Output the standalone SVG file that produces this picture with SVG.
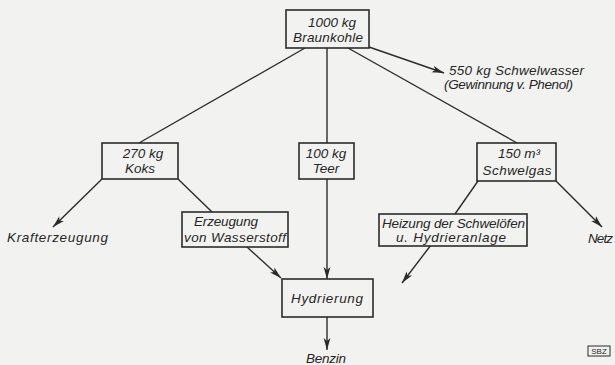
<svg xmlns="http://www.w3.org/2000/svg" width="615" height="365" viewBox="0 0 615 365">
<style>
.bg{fill:#f2f2f0}
.box{fill:#f2f2f0;stroke:#2b2b2b;stroke-width:1.6}
.ln{stroke:#2b2b2b;stroke-width:1.4;fill:none}
.ar{marker-end:url(#arr)}
text{font-family:"Liberation Sans",Arial,sans-serif;font-style:italic;font-size:13.5px;fill:#262626}
.c{text-anchor:middle}
.s{font-size:8px;font-style:normal}
</style>
<defs>
<marker id="arr" viewBox="0 0 12 8" refX="12" refY="4" markerWidth="12" markerHeight="8" markerUnits="userSpaceOnUse" orient="auto">
<path d="M0,0.6 L12,4 L0,7.4 L3,4 Z" fill="#2b2b2b"/>
</marker>
</defs>
<rect class="bg" x="0" y="0" width="615" height="365"/>
<g id="connectors">
<line class="ln" x1="305" y1="48" x2="139" y2="143"/>
<line class="ln" x1="327" y1="48" x2="327" y2="143"/>
<line class="ln" x1="348" y1="48" x2="517" y2="143"/>
<line class="ln ar" x1="369" y1="47" x2="444" y2="73"/>
<line class="ln ar" x1="102" y1="179" x2="53" y2="227"/>
<line class="ln" x1="178" y1="179" x2="212" y2="212"/>
<line class="ln ar" x1="247" y1="247" x2="281" y2="278"/>
<line class="ln ar" x1="327" y1="179" x2="327" y2="279"/>
<line class="ln" x1="478" y1="181" x2="455" y2="214"/>
<line class="ln ar" x1="431" y1="245" x2="402" y2="283"/>
<line class="ln ar" x1="556" y1="181" x2="602" y2="227"/>
<line class="ln ar" x1="327" y1="317" x2="327" y2="350"/>
</g>
<g id="braunkohle">
<rect class="box" x="286" y="10" width="83" height="38"/>
<text class="c" x="332" y="27">1000 kg</text>
<text class="c" x="328" y="42" textLength="70">Braunkohle</text>
</g>
<g id="schwelwasser">
<text x="449" y="75" textLength="135">550 kg  Schwelwasser</text>
<text x="444" y="89" textLength="129">(Gewinnung v. Phenol)</text>
</g>
<g id="koks">
<rect class="box" x="102" y="143" width="76" height="36"/>
<text class="c" x="143" y="158">270 kg</text>
<text class="c" x="140" y="173">Koks</text>
</g>
<g id="teer">
<rect class="box" x="299" y="143" width="55" height="36"/>
<text class="c" x="326" y="158">100 kg</text>
<text class="c" x="326" y="173">Teer</text>
</g>
<g id="schwelgas">
<rect class="box" x="477" y="143" width="79" height="38"/>
<text class="c" x="519" y="158">150 m³</text>
<text class="c" x="517" y="175" textLength="69">Schwelgas</text>
</g>
<g id="krafterzeugung">
<text x="7" y="242" textLength="101">Krafterzeugung</text>
</g>
<g id="wasserstoff">
<rect class="box" x="182" y="212" width="106" height="35"/>
<text class="c" x="226" y="226" textLength="64">Erzeugung</text>
<text class="c" x="235" y="242" textLength="102">von Wasserstoff</text>
</g>
<g id="heizung">
<rect class="box" x="379" y="214" width="148" height="32"/>
<text x="382" y="228" textLength="143">Heizung der Schwelöfen</text>
<text x="396" y="242" textLength="110">u. Hydrieranlage</text>
</g>
<g id="netz">
<text x="588" y="243" textLength="25">Netz</text>
</g>
<g id="hydrierung">
<rect class="box" x="282" y="279" width="91" height="38"/>
<text class="c" x="327" y="303" textLength="72">Hydrierung</text>
</g>
<g id="benzin">
<text class="c" x="326" y="363" textLength="40">Benzin</text>
</g>
<g id="sbz">
<rect class="box" x="588" y="346" width="22" height="10" style="stroke-width:1"/>
<text class="c s" x="599" y="354">SBZ</text>
</g>
</svg>
